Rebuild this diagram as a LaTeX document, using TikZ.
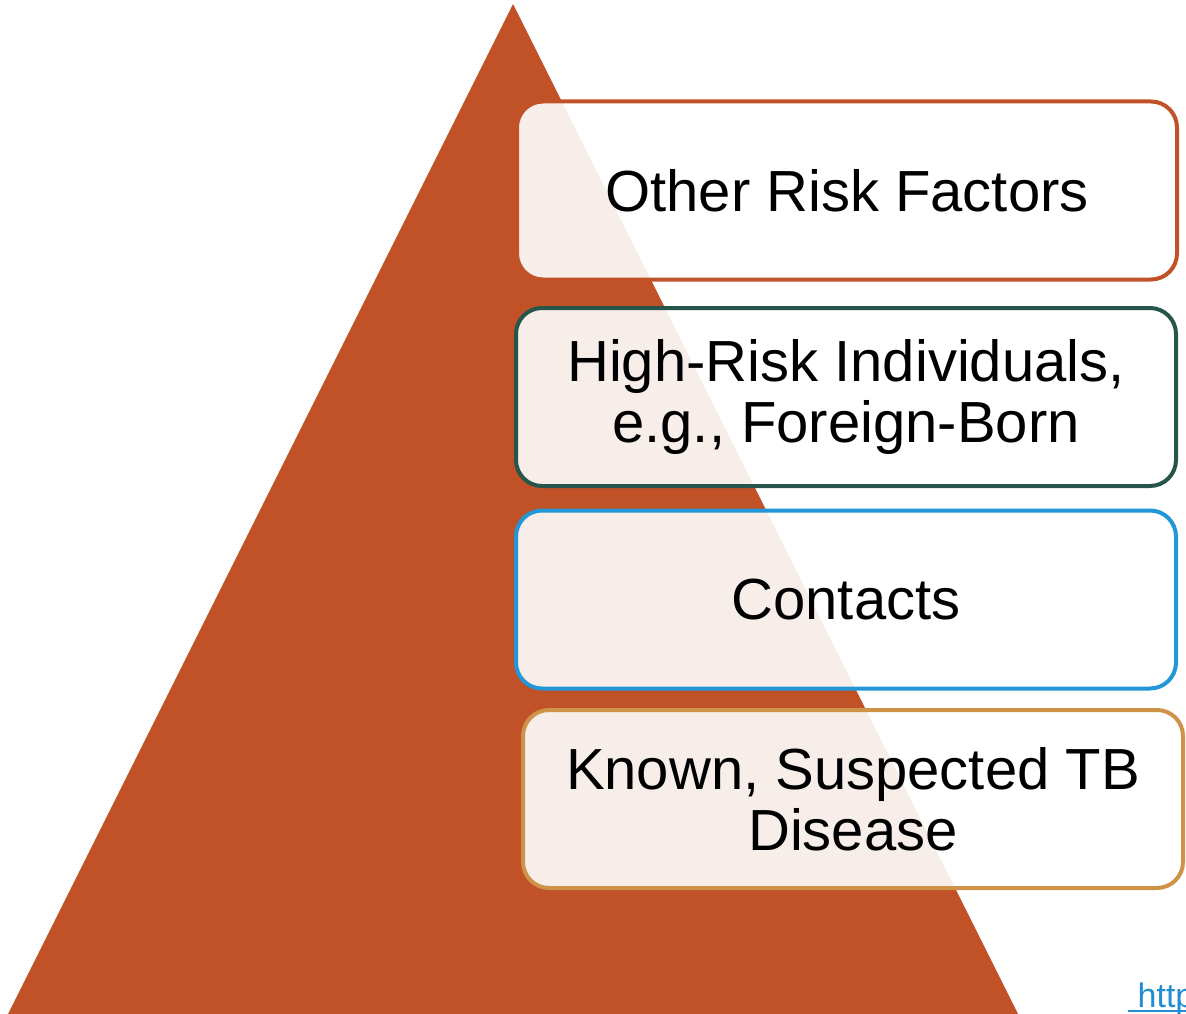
\documentclass[tikz,border=0pt]{standalone}
\usepackage{fontspec}
\setmainfont{Liberation Sans}
\definecolor{rust}{RGB}{193,82,40}
\definecolor{pine}{RGB}{38,85,76}
\definecolor{sky}{RGB}{34,150,214}
\definecolor{ochre}{RGB}{206,146,72}
\definecolor{linkblue}{RGB}{35,140,210}
\begin{document}
\begin{tikzpicture}[x=1pt,y=-1pt,
  tier/.style={draw, rounded corners=26pt, line width=4pt,
    fill=white, fill opacity=0.9, text opacity=1, draw opacity=1,
    minimum width=660pt, minimum height=178pt, inner sep=0pt,
    align=center, font=\fontsize{58}{61}\selectfont}]
\useasboundingbox (0,0) rectangle (1186,1014);
\clip (0,0) rectangle (1186,1014);
% pyramid
\coordinate (apex) at (513,4);
\coordinate (bl) at (3,1024);
\coordinate (br) at (1023,1024);
\fill[rust] (apex) -- (bl) -- (br) -- cycle;
% tiers
\node[tier, draw=rust]  (risk)     at (847,190.5) {Other Risk Factors};
\node[tier, draw=pine]  (highrisk) at (846,397)    {High-Risk Individuals,\\e.g., Foreign-Born};
\node[tier, draw=sky]   (contacts) at (846,599.5)  {Contacts};
\node[tier, draw=ochre] (known)    at (853,799)  {Known, Suspected TB\\Disease};
% link text at the lower right corner
\node[anchor=base west, inner sep=0pt, text=linkblue,
      font=\fontsize{34}{36}\selectfont] (link) at (1128,1007) {\ http};
\draw[linkblue, line width=2pt] ([yshift=-4pt]link.base west) -- ([yshift=-4pt]link.base east);
\end{tikzpicture}
\end{document}
